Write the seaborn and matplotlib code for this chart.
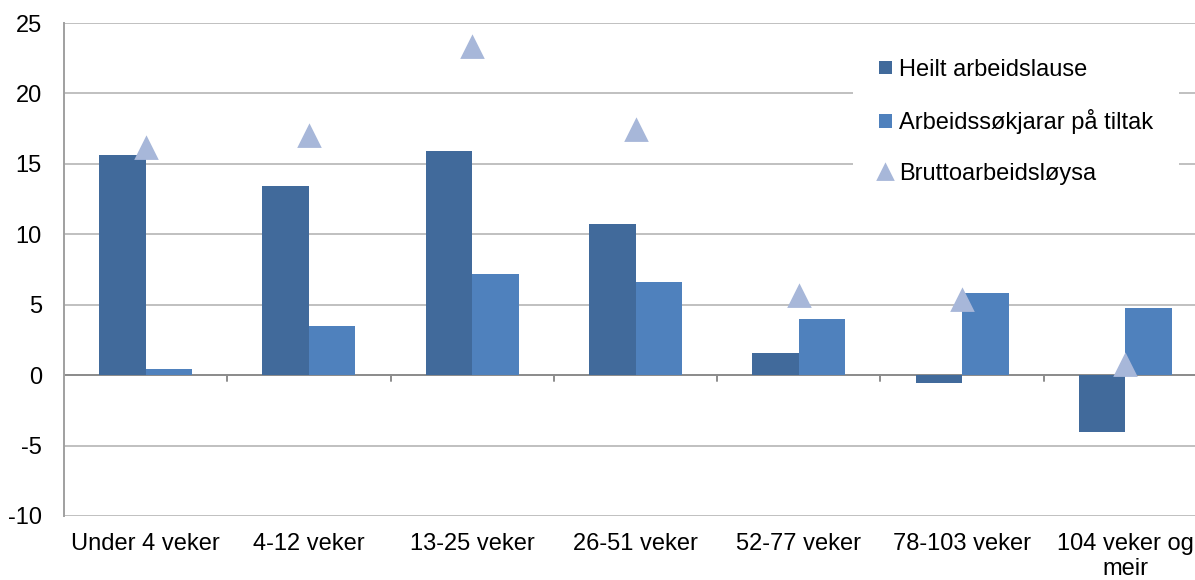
import pandas as pd
import seaborn as sns
import matplotlib.pyplot as plt

# values
kategoriar = ['Under 4 veker', '4-12 veker', '13-25 veker', '26-51 veker',
              '52-77 veker', '78-103 veker', '104 veker og\nmeir']
heilt_ledige = [15.6, 13.4, 15.9, 10.7, 1.55, -0.55, -4.05]
tiltak = [0.45, 3.5, 7.2, 6.6, 4.0, 5.85, 4.8]
brutto = [16.1, 17.0, 23.3, 17.4, 5.6, 5.3, 0.75]

serie_namn = ['Heilt arbeidslause', 'Arbeidssøkjarar på tiltak']
fargar = ['#416A9B', '#4F81BD']
trekant_farge = '#A7B7D9'

df = pd.DataFrame({
    'kategori': kategoriar * 2,
    'verdi': heilt_ledige + tiltak,
    'serie': [serie_namn[0]] * 7 + [serie_namn[1]] * 7,
})

sns.set_style('white')
plt.rcParams['font.family'] = ['Liberation Sans', 'DejaVu Sans']
plt.rcParams['axes.unicode_minus'] = False
plt.rcParams['text.color'] = 'black'

fig = plt.figure(figsize=(11.95, 5.8), dpi=100)
ax = fig.add_axes([64 / 1195, 1 - 516 / 580, 1143 / 1195, (516 - 23) / 580])

sns.barplot(data=df, x='kategori', y='verdi', hue='serie', palette=fargar,
            width=0.57, gap=0, saturation=1, linewidth=0, ax=ax, zorder=2, legend=True)
sns.pointplot(x=kategoriar, y=brutto, linestyle='none', marker='^',
              markersize=14, color=trekant_farge, label='Bruttoarbeidsløysa',
              ax=ax, zorder=3)

ax.set_ylim(-10, 25)
ax.set_yticks(range(-10, 26, 5))
ax.set_xlim(-0.5, 6.5)
ax.grid(axis='y', color='#C0C0C0', linewidth=1.4, zorder=0)
ax.set_axisbelow(True)
for s in ['top', 'right', 'bottom']:
    ax.spines[s].set_visible(False)
ax.spines['left'].set_color('#A0A0A0')
ax.spines['left'].set_linewidth(1.4)
ax.axhline(0, color='#8C8C8C', linewidth=1.4, zorder=1)
ax.tick_params(axis='y', length=0, pad=16, labelsize=17, labelcolor='black')

# tick marks between categories on the zero line
ax.set_xticks([])
ax.set_xlabel('')
ax.set_ylabel('')
for xb in range(1, 7):
    ax.plot([xb - 0.5, xb - 0.5], [0, -0.4], color='#8C8C8C', linewidth=1.4, zorder=1)

sek = ax.secondary_xaxis('bottom')
sek.set_xticks(range(7), labels=kategoriar)
sek.tick_params(length=0, pad=12, labelsize=17, labelcolor='black')
sek.spines['bottom'].set_visible(False)

h, l = ax.get_legend_handles_labels()
leg = ax.legend(h, l, loc='upper left', bbox_to_anchor=(853 / 1195, 1 - 33 / 580),
                bbox_transform=fig.transFigure, fontsize=17, frameon=True,
                facecolor='white', edgecolor='none', framealpha=1, fancybox=False,
                handlelength=0.55, handleheight=0.5, handletextpad=0.3,
                labelspacing=1.2, borderpad=1.1, borderaxespad=0)
for t in leg.get_texts():
    t.set_color('black')
leg.legend_handles[2].set_markersize(10.5)

fig.savefig('out.png', dpi=100)
